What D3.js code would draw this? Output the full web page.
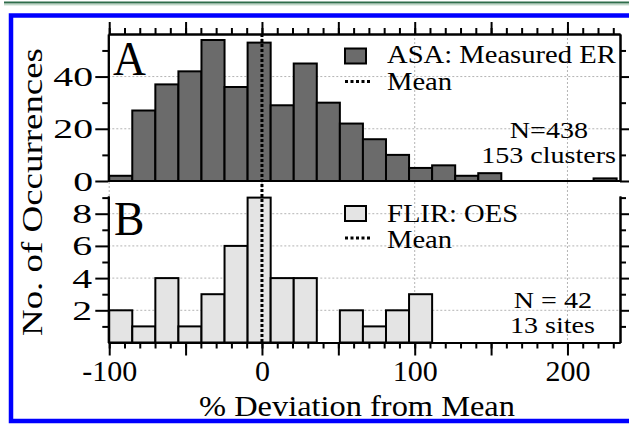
<!DOCTYPE html>
<html><head><meta charset="utf-8">
<script src="https://cdn.jsdelivr.net/npm/d3@7"></script>
<style>body{margin:0;background:#fff} svg{display:block} text{font-family:"Liberation Serif","Times New Roman",Times,serif;}</style>
</head><body><svg id="c" width="629" height="424"></svg>
<script>
// ---- data ----
const binStart = -100;
const binWidth = 15.1;
const asaCounts = [2,27,37,42,54,36,53,29,45,30,22,16,10,5,6,2,3,0,0,0,0,1];
const flirCounts = [2,1,4,1,3,6,9,4,4,0,2,1,2,3];
const xTickLabels = [-100,0,100,200];
const yTicksA = [0,20,40];
const yTicksB = [2,4,6,8];
const legendA = ["ASA: Measured ER","Mean"];
const legendB = ["FLIR: OES","Mean"];
const noteA = ["N=438","153 clusters"];
const noteB = ["N = 42","13 sites"];
const panelLabels = ["A","B"];
const meanValue = 0;
const xTitle = "% Deviation from Mean";
const yTitle = "No. of Occurrences";

const svg = d3.select("#c");

// frame and header rule
svg.append("line").attr("x1",4).attr("x2",629).attr("y1",2.5).attr("y2",2.5).attr("stroke","#2f6d4b").attr("stroke-width",2.2);
svg.append("line").attr("x1",4).attr("x2",629).attr("y1",4.8).attr("y2",4.8).attr("stroke","#a8c8b3").attr("stroke-width",1);
svg.append("rect").attr("x",11).attr("y",15.5).attr("width",640).attr("height",405.5)
  .attr("fill","none").attr("stroke","#0000ff").attr("stroke-width",4.5);

// scales
const x = d3.scaleLinear().domain([-100.6, 234.4]).range([108.3, 620]);
const yA = d3.scaleLinear().domain([0, 56.3]).range([181, 34]);
const yB = d3.scaleLinear().domain([0, 9.1]).range([342.5, 196]);

const grid = svg.append("g").attr("stroke","#b4b4b4").attr("stroke-width",1).attr("stroke-dasharray","2,2");
xTickLabels.forEach(v => grid.append("line").attr("x1",x(v)).attr("x2",x(v)).attr("y1",yA.range()[1]).attr("y2",yB(0)));
yTicksA.filter(v=>v>0).forEach(v => grid.append("line").attr("x1",x.range()[0]).attr("x2",x.range()[1]).attr("y1",yA(v)).attr("y2",yA(v)));
yTicksB.forEach(v => grid.append("line").attr("x1",x.range()[0]).attr("x2",x.range()[1]).attr("y1",yB(v)).attr("y2",yB(v)));

function drawBars(counts, y, fill){
  const g = svg.append("g");
  counts.forEach((c,i) => {
    if (c <= 0) return;
    const x0 = binStart + i*binWidth, x1 = x0 + binWidth;
    g.append("rect").attr("x", x(x0)).attr("width", x(x1)-x(x0))
      .attr("y", y(c)).attr("height", y(0)-y(c))
      .attr("fill", fill).attr("stroke","#000").attr("stroke-width",2);
  });
}
drawBars(asaCounts, yA, "#6b6b6b");
drawBars(flirCounts, yB, "#e4e4e4");

// mean line
svg.append("line").attr("x1",x(meanValue)).attr("x2",x(meanValue)).attr("y1",yA.range()[1]).attr("y2",yB(0))
  .attr("stroke","#000").attr("stroke-width",3).attr("stroke-dasharray","3,2");

// axes
function addAxis(axis, tr, fs){
  const g = svg.append("g").attr("transform",tr).call(axis);
  g.attr("font-family",null).attr("font-size",null);
  g.selectAll("path").attr("stroke","#000").attr("stroke-width",2);
  g.selectAll("line").attr("stroke","#000").attr("stroke-width",2);
  g.selectAll("text").style("font-size",fs || "10px").attr("fill","#000");
  return g;
}
const fmtX = d => xTickLabels.includes(d) ? String(d) : "";
const minorX = d3.range(-100, 235, 10);
const majorX = d3.range(-100, 235, 50);
// top axis of panel A
addAxis(d3.axisTop(x).tickValues(minorX).tickSize(6).tickSizeOuter(0).tickFormat(""), "translate(0,34)");
addAxis(d3.axisTop(x).tickValues(majorX).tickSize(12).tickSizeOuter(0).tickFormat(""), "translate(0,34)");
// bottom of panel A
svg.append("line").attr("x1",x.range()[0]).attr("x2",x.range()[1]).attr("y1",yA(0)).attr("y2",yA(0)).attr("stroke","#000").attr("stroke-width",2);
// bottom axis of panel B
addAxis(d3.axisBottom(x).tickValues(minorX).tickSize(6).tickSizeOuter(0).tickFormat(""), `translate(0,${yB(0)})`);
addAxis(d3.axisBottom(x).tickValues(majorX).tickSize(13).tickSizeOuter(0).tickPadding(4).tickFormat(fmtX), `translate(0,${yB(0)})`, "30px");

// left / right axes panel A
addAxis(d3.axisLeft(yA).tickValues([10,30,50]).tickSize(6).tickSizeOuter(0).tickFormat(""), `translate(${x.range()[0]},0)`);
addAxis(d3.axisLeft(yA).tickValues(yTicksA).tickSize(13).tickSizeOuter(0).tickFormat(""), `translate(${x.range()[0]},0)`);
addAxis(d3.axisRight(yA).tickValues([10,30,50]).tickSize(6).tickSizeOuter(0).tickFormat(""), `translate(${x.range()[1]},0)`);
addAxis(d3.axisRight(yA).tickValues(yTicksA).tickSize(9).tickSizeOuter(0).tickFormat(""), `translate(${x.range()[1]},0)`);
// left / right axes panel B
addAxis(d3.axisLeft(yB).tickValues([1,3,5,7,9]).tickSize(6).tickSizeOuter(0).tickFormat(""), `translate(${x.range()[0]},0)`);
addAxis(d3.axisLeft(yB).tickValues(yTicksB).tickSize(13).tickSizeOuter(0).tickFormat(""), `translate(${x.range()[0]},0)`);
addAxis(d3.axisRight(yB).tickValues([1,3,5,7,9]).tickSize(6).tickSizeOuter(0).tickFormat(""), `translate(${x.range()[1]},0)`);
addAxis(d3.axisRight(yB).tickValues(yTicksB).tickSize(9).tickSizeOuter(0).tickFormat(""), `translate(${x.range()[1]},0)`);

// text helper
function txt(str, tx, ty, size, anchor, sx){
  return svg.append("text").attr("transform",`translate(${tx},${ty}) scale(${sx||1},1)`)
    .style("font-size",size+"px").attr("text-anchor",anchor||"start").attr("fill","#000").text(str);
}
// y tick labels (wide serif digits)
yTicksA.forEach(v => txt(String(v), 93, yA(v)+9.5, 28, "end", 1.42));
yTicksB.forEach(v => txt(String(v), 92, yB(v)+9.5, 28, "end", 1.42));

// panel labels
txt(panelLabels[0], 113, 75, 48, "start", 0.95);
txt(panelLabels[1], 114, 235, 48, "start", 0.95);

// legends
function legend(items, boxY, dashY, textY, fill){
  svg.append("rect").attr("x",345).attr("y",boxY).attr("width",21).attr("height",15)
    .attr("fill",fill).attr("stroke","#000").attr("stroke-width",2);
  svg.append("line").attr("x1",345).attr("x2",370).attr("y1",dashY).attr("y2",dashY)
    .attr("stroke","#000").attr("stroke-width",3).attr("stroke-dasharray","3,2.5");
  txt(items[0], 387, textY[0], 26, "start", 1.1);
  txt(items[1], 387, textY[1], 26, "start", 1.1);
}
legend(legendA, 48.5, 81.5, [63, 89.5], "#6b6b6b");
legend(legendB, 206, 238, [221.5, 248], "#e4e4e4");

// notes
txt(noteA[0], 588, 138, 24, "end", 1.17);
txt(noteA[1], 616, 163, 24, "end", 1.17);
txt(noteB[0], 592, 307.5, 24, "end", 1.17);
txt(noteB[1], 595, 333, 24, "end", 1.17);

// axis titles
txt(xTitle, 357, 416, 30, "middle", 1.08);
svg.append("text").attr("transform","translate(42,192) rotate(-90)")
  .style("font-size","30px").attr("text-anchor","middle").attr("fill","#000")
  .attr("textLength",288).attr("lengthAdjust","spacingAndGlyphs").text(yTitle);
</script></body></html>
